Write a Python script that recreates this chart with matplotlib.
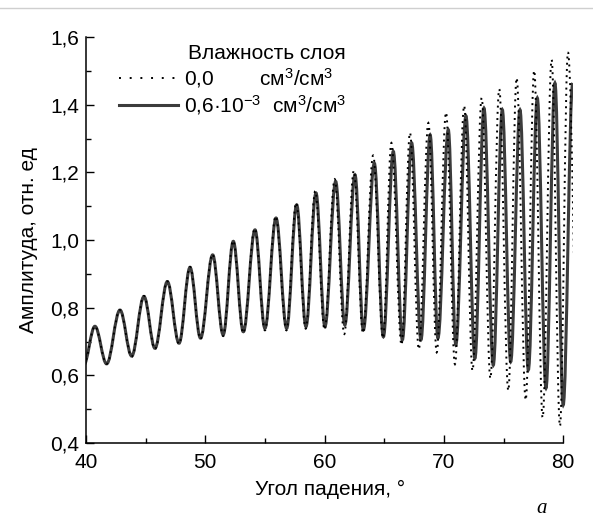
"""Amplitude vs incidence angle for two layer moisture levels."""

import matplotlib

matplotlib.use("Agg")
from matplotlib import pyplot as plt  # noqa: E402
from matplotlib.lines import Line2D  # noqa: E402
from matplotlib.patches import PathPatch  # noqa: E402
from matplotlib.path import Path  # noqa: E402
from matplotlib.ticker import FixedLocator, FuncFormatter  # noqa: E402

# extrema (peaks / troughs), degrees and relative units
dry_angle = [
    39.8, 40.75, 41.73, 42.85, 43.83, 44.86, 45.78, 46.82, 47.8, 48.72,
    49.6, 50.6, 51.5, 52.33, 53.18, 54.15, 55.0, 55.9, 56.8, 57.62,
    58.42, 59.22, 60.0, 60.85, 61.65, 62.45, 63.22, 64.07, 64.9, 65.6,
    66.45, 67.16, 67.9, 68.7, 69.4, 70.18, 70.93, 71.7, 72.4, 73.17,
    73.9, 74.64, 75.4, 76.1, 76.86, 77.57, 78.28, 79.03, 79.73, 80.4, 81.35,
]
dry_amp = [
    0.63, 0.745, 0.634, 0.793, 0.655, 0.835, 0.678, 0.878, 0.693, 0.921,
    0.707, 0.958, 0.716, 0.998, 0.725, 1.034, 0.733, 1.07, 0.733, 1.11,
    0.738, 1.145, 0.735, 1.18, 0.722, 1.205, 0.725, 1.25, 0.71, 1.287,
    0.69, 1.317, 0.677, 1.346, 0.668, 1.377, 0.633, 1.397, 0.614, 1.42,
    0.591, 1.446, 0.555, 1.479, 0.527, 1.501, 0.475, 1.533, 0.45, 1.555, 0.45,
]

wet_angle = [
    39.8, 40.75, 41.73, 42.85, 43.83, 44.86, 45.78, 46.82, 47.8, 48.72,
    49.6, 50.62, 51.5, 52.35, 53.19, 54.17, 55.0, 55.93, 56.82, 57.66,
    58.44, 59.28, 60.03, 60.93, 61.7, 62.55, 63.25, 64.17, 64.93, 65.76,
    66.52, 67.3, 68.08, 68.85, 69.5, 70.37, 71.0, 71.85, 72.6, 73.36,
    74.14, 74.9, 75.6, 76.38, 77.08, 77.83, 78.56, 79.31, 80.0, 80.8,
]
wet_amp = [
    0.63, 0.745, 0.634, 0.793, 0.657, 0.833, 0.680, 0.877, 0.695, 0.919,
    0.710, 0.956, 0.720, 0.996, 0.729, 1.030, 0.739, 1.065, 0.739, 1.104,
    0.744, 1.139, 0.744, 1.173, 0.749, 1.193, 0.734, 1.227, 0.714, 1.262,
    0.705, 1.287, 0.705, 1.311, 0.710, 1.326, 0.69, 1.367, 0.65, 1.39,
    0.63, 1.385, 0.64, 1.385, 0.616, 1.42, 0.562, 1.464, 0.512, 1.464,
]

x_ticks = [40, 50, 60, 70, 80]
y_ticks = [0.4, 0.6, 0.8, 1.0, 1.2, 1.4, 1.6]

plt.rcParams["font.family"] = ["Liberation Sans", "DejaVu Sans"]
plt.rcParams["mathtext.fontset"] = "custom"
plt.rcParams["mathtext.rm"] = "Liberation Sans"
plt.rcParams["mathtext.it"] = "Liberation Sans:italic"

FS = 15


def smooth_path(xs, ys, k=0.3642):
    """Cubic segments between extrema with flat tangents at each extremum."""
    verts = [(xs[0], ys[0])]
    codes = [Path.MOVETO]
    for x0, y0, x1, y1 in zip(xs[:-1], ys[:-1], xs[1:], ys[1:]):
        dx = x1 - x0
        verts += [(x0 + k * dx, y0), (x1 - k * dx, y1), (x1, y1)]
        codes += [Path.CURVE4] * 3
    return Path(verts, codes)


fig = plt.figure(figsize=(5.93, 5.17), dpi=100)
ax = fig.add_axes([0.145, 0.1431, 0.8218, 0.7853])

ax.add_patch(PathPatch(smooth_path(wet_angle, wet_amp), fill=False,
                       edgecolor="#3c3c3c", linewidth=2.2, zorder=2))
ax.add_patch(PathPatch(smooth_path(dry_angle, dry_amp), fill=False,
                       edgecolor="black", linewidth=1.4,
                       linestyle=(0, (1, 2.2)), zorder=3))

ax.set_xlim(40, 80.85)
ax.set_ylim(0.4, 1.6)
for side in ("top", "right"):
    ax.spines[side].set_visible(False)
ax.spines["bottom"].set_bounds(40, 80)
for side in ("left", "bottom"):
    ax.spines[side].set_linewidth(1.1)

ax.xaxis.set_major_locator(FixedLocator(x_ticks))
ax.xaxis.set_minor_locator(FixedLocator([45, 55, 65, 75]))
ax.yaxis.set_major_locator(FixedLocator(y_ticks))
ax.yaxis.set_minor_locator(FixedLocator([0.5, 0.7, 0.9, 1.1, 1.3, 1.5]))
ax.yaxis.set_major_formatter(FuncFormatter(lambda v, _: f"{v:.1f}".replace(".", ",")))
ax.tick_params(which="major", direction="in", length=6, width=1.0, labelsize=FS)
ax.tick_params(axis="x", which="major", pad=7)
ax.tick_params(axis="y", which="major", pad=5)
ax.tick_params(which="minor", direction="in", length=3.5, width=1.0)

ax.set_xlabel("Угол падения, °", fontsize=FS, labelpad=6)
ax.set_ylabel("Амплитуда, отн. ед", fontsize=FS, labelpad=9)

handles = [
    Line2D([], [], color="black", linewidth=1.4, linestyle=(0, (1, 4.5))),
    Line2D([], [], color="#3c3c3c", linewidth=2.2),
]
labels = [
    "0,0        см$^{\\mathrm{3}}$/см$^{\\mathrm{3}}$",
    "0,6·10$^{\\mathrm{-3}}$  см$^{\\mathrm{3}}$/см$^{\\mathrm{3}}$",
]
leg = ax.legend(handles, labels, title="Влажность слоя", loc="upper left",
                bbox_to_anchor=(0.03, 1.03), frameon=False, fontsize=FS,
                title_fontsize=FS, handlelength=2.8, handletextpad=0.3,
                labelspacing=0.15, alignment="right")

fig.add_artist(Line2D([0, 1], [0.985, 0.985], transform=fig.transFigure,
                      color="#cfcfcf", linewidth=1.0))
fig.text(0.905, 0.008, "a", fontsize=15, style="italic", family="Liberation Serif")

fig.savefig("out.png", dpi=100)
